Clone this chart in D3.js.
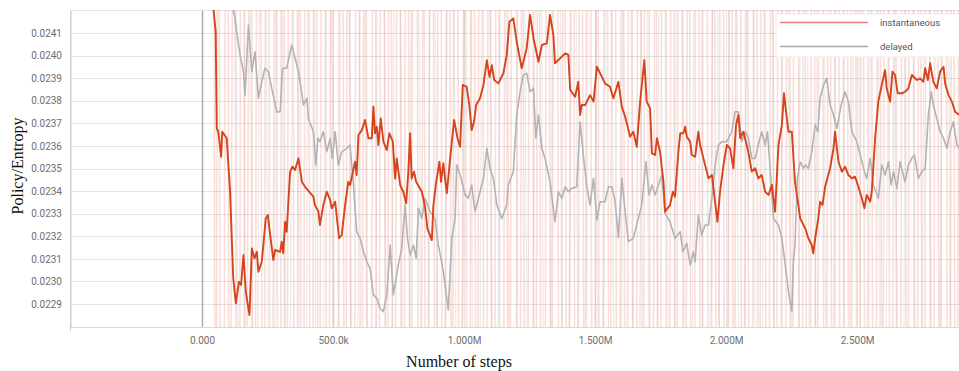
<!DOCTYPE html>
<html>
<head>
<meta charset="utf-8">
<script src="https://cdn.jsdelivr.net/npm/d3@7"></script>
<style>
  body { margin: 0; background: #fff; }
  text { font-family: Roboto, Arial, sans-serif; }
</style>
</head>
<body>
<svg id="chart" width="959" height="371"></svg>
<script>
// ---- data ----
const xTicks = [-500000, 0, 500000, 1000000, 1500000, 2000000, 2500000];
const xTickLabels = ['', '0.000', '500.0k', '1.000M', '1.500M', '2.000M', '2.500M'];
const yTicks = [0.0229, 0.0230, 0.0231, 0.0232, 0.0233, 0.0234, 0.0235, 0.0236, 0.0237, 0.0238, 0.0239, 0.0240, 0.0241];
const seriesNames = ['instantaneous', 'delayed'];

// smoothed series: [step (thousands), value]
const instantaneous = [
  [42,0.024224],[52,0.024106],[56,0.023678],[62,0.023663],[73,0.023552],[77,0.023663],[94,0.023634],[107,0.023397],[119,0.023015],[129,0.022903],
  [141,0.022999],[149,0.022984],[158,0.023117],[167,0.022954],[181,0.022851],[190,0.023146],[200,0.023102],[209,0.023131],[215,0.023043],[228,0.023087],
  [234,0.023161],[243,0.023279],[251,0.023294],[260,0.023205],[272,0.023095],[279,0.023139],[298,0.023131],[304,0.023176],[310,0.023124],[317,0.023264],
  [323,0.023220],[336,0.023486],[345,0.023508],[355,0.023493],[368,0.023545],[381,0.023441],[393,0.023419],[425,0.023375],[431,0.023338],[444,0.023309],
  [450,0.023250],[463,0.023338],[476,0.023397],[489,0.023360],[495,0.023324],[508,0.023353],[523,0.023191],[533,0.023205],[546,0.023338],[558,0.023441],
  [565,0.023427],[584,0.023530],[590,0.023471],[597,0.023648],[610,0.023670],[622,0.023715],[635,0.023634],[648,0.023634],[654,0.023774],[660,0.023656],
  [667,0.023685],[673,0.023604],[682,0.023722],[692,0.023619],[705,0.023582],[715,0.023656],[728,0.023619],[737,0.023456],[743,0.023545],[756,0.023427],
  [768,0.023397],[779,0.023346],[787,0.023479],[794,0.023656],[800,0.023456],[809,0.023486],[817,0.023441],[839,0.023397],[851,0.023331],[860,0.023235],
  [877,0.023183],[883,0.023338],[893,0.023434],[906,0.023530],[912,0.023441],[921,0.023523],[934,0.023390],[947,0.023545],[962,0.023715],[975,0.023634],
  [985,0.023596],[995,0.023870],[1010,0.023862],[1020,0.023781],[1029,0.023670],[1038,0.023707],[1046,0.023781],[1061,0.023811],[1074,0.023870],[1087,0.023980],
  [1097,0.023906],[1106,0.023958],[1115,0.023892],[1131,0.023877],[1150,0.023922],[1163,0.024003],[1173,0.024150],[1188,0.024165],[1201,0.024061],[1220,0.023944],
  [1239,0.024032],[1252,0.024180],[1265,0.024077],[1284,0.023973],[1297,0.024047],[1316,0.024054],[1328,0.024180],[1341,0.024091],[1347,0.023966],[1386,0.024010],
  [1398,0.024003],[1405,0.023848],[1424,0.023818],[1436,0.023884],[1443,0.023737],[1449,0.023781],[1462,0.023781],[1481,0.023825],[1494,0.023796],[1507,0.023951],
  [1538,0.023877],[1557,0.023862],[1570,0.023811],[1589,0.023884],[1602,0.023774],[1615,0.023729],[1634,0.023641],[1646,0.023663],[1659,0.023596],[1672,0.023796],
  [1688,0.023980],[1697,0.023796],[1710,0.023766],[1717,0.023567],[1729,0.023560],[1736,0.023634],[1748,0.023574],[1761,0.023441],[1767,0.023309],[1786,0.023338],
  [1797,0.023397],[1805,0.023375],[1818,0.023574],[1825,0.023656],[1837,0.023656],[1844,0.023685],[1850,0.023641],[1863,0.023619],[1869,0.023560],[1882,0.023552],
  [1894,0.023663],[1901,0.023604],[1920,0.023515],[1933,0.023456],[1946,0.023471],[1952,0.023412],[1967,0.023264],[1977,0.023397],[1990,0.023515],[2003,0.023604],
  [2015,0.023589],[2028,0.023501],[2038,0.023693],[2047,0.023737],[2054,0.023634],[2066,0.023663],[2085,0.023574],[2098,0.023486],[2111,0.023501],[2123,0.023456],
  [2136,0.023471],[2149,0.023397],[2162,0.023383],[2175,0.023427],[2187,0.023309],[2200,0.023604],[2213,0.023693],[2221,0.023833],[2229,0.023751],[2238,0.023663],
  [2251,0.023663],[2263,0.023441],[2283,0.023279],[2302,0.023235],[2314,0.023191],[2327,0.023161],[2333,0.023124],[2340,0.023191],[2352,0.023279],[2359,0.023353],
  [2368,0.023338],[2378,0.023419],[2397,0.023501],[2410,0.023589],[2416,0.023663],[2429,0.023530],[2442,0.023486],[2454,0.023508],[2467,0.023471],[2480,0.023456],
  [2492,0.023464],[2505,0.023419],[2518,0.023368],[2528,0.023324],[2537,0.023383],[2550,0.023353],[2556,0.023397],[2569,0.023634],[2581,0.023796],[2594,0.023870],
  [2607,0.023936],[2613,0.023855],[2626,0.023796],[2635,0.023929],[2645,0.023914],[2655,0.023833],[2671,0.023833],[2683,0.023840],[2696,0.023855],[2709,0.023914],
  [2728,0.023892],[2741,0.023899],[2753,0.023884],[2760,0.023944],[2770,0.023892],[2779,0.023966],[2791,0.023884],[2804,0.023855],[2817,0.023929],[2830,0.023951],
  [2836,0.023877],[2849,0.023825],[2862,0.023796],[2874,0.023751],[2890,0.023737]
];

const delayed = [
  [115,0.024224],[126,0.024165],[132,0.024106],[145,0.024003],[158,0.023929],[164,0.023825],[177,0.024135],[190,0.023929],[202,0.024017],[215,0.023811],
  [228,0.023884],[240,0.023944],[253,0.023929],[266,0.023855],[285,0.023751],[298,0.023751],[307,0.023944],[323,0.023944],[342,0.024047],[355,0.023988],
  [368,0.023929],[378,0.023855],[387,0.023781],[400,0.023811],[406,0.023722],[425,0.023663],[434,0.023515],[442,0.023634],[450,0.023619],[463,0.023663],
  [476,0.023574],[489,0.023634],[497,0.023545],[508,0.023663],[520,0.023515],[533,0.023574],[552,0.023589],[565,0.023604],[578,0.023427],[590,0.023220],
  [603,0.023191],[616,0.023131],[629,0.023087],[641,0.023058],[654,0.022940],[667,0.022925],[679,0.022881],[692,0.022866],[705,0.022940],[718,0.023161],
  [730,0.022940],[749,0.023072],[762,0.023146],[775,0.023338],[784,0.023191],[794,0.023117],[807,0.023161],[817,0.023102],[826,0.023324],[839,0.023279],
  [851,0.023368],[870,0.023309],[889,0.023279],[902,0.023161],[921,0.023043],[940,0.022873],[953,0.023191],[966,0.023279],[972,0.023515],[985,0.023471],
  [1004,0.023383],[1016,0.023368],[1029,0.023427],[1042,0.023309],[1061,0.023397],[1074,0.023456],[1087,0.023589],[1099,0.023501],[1112,0.023456],[1125,0.023338],
  [1144,0.023279],[1163,0.023338],[1169,0.023427],[1188,0.023486],[1201,0.023737],[1214,0.023840],[1226,0.023914],[1239,0.023922],[1252,0.023840],[1265,0.023855],
  [1274,0.023634],[1284,0.023737],[1297,0.023589],[1309,0.023545],[1328,0.023441],[1347,0.023264],[1360,0.023397],[1373,0.023368],[1386,0.023419],[1398,0.023397],
  [1411,0.023412],[1430,0.023419],[1443,0.023707],[1455,0.023560],[1468,0.023427],[1481,0.023338],[1494,0.023456],[1507,0.023272],[1519,0.023353],[1538,0.023353],
  [1551,0.023419],[1564,0.023419],[1576,0.023360],[1589,0.023194],[1602,0.023456],[1615,0.023309],[1627,0.023176],[1646,0.023191],[1665,0.023279],[1678,0.023338],
  [1694,0.023530],[1706,0.023383],[1717,0.023427],[1729,0.023383],[1742,0.023427],[1755,0.023471],[1767,0.023301],[1786,0.023264],[1805,0.023191],[1825,0.023220],
  [1835,0.023131],[1850,0.023169],[1863,0.023072],[1875,0.023131],[1882,0.023087],[1894,0.023294],[1907,0.023205],[1920,0.023250],[1933,0.023250],[1946,0.023368],
  [1958,0.023515],[1971,0.023604],[1984,0.023619],[2003,0.023619],[2022,0.023663],[2034,0.023751],[2047,0.023751],[2060,0.023619],[2073,0.023663],[2085,0.023634],
  [2098,0.023545],[2111,0.023545],[2123,0.023604],[2136,0.023663],[2149,0.023604],[2158,0.023663],[2168,0.023501],[2181,0.023279],[2200,0.023250],[2213,0.023191],
  [2229,0.023043],[2238,0.022954],[2251,0.022866],[2257,0.023087],[2263,0.023161],[2272,0.023456],[2283,0.023530],[2295,0.023501],[2302,0.023515],[2314,0.023501],
  [2327,0.023574],[2340,0.023693],[2350,0.023663],[2359,0.023811],[2372,0.023870],[2384,0.023899],[2397,0.023781],[2410,0.023737],[2423,0.023678],[2439,0.023781],
  [2454,0.023840],[2467,0.023796],[2480,0.023663],[2499,0.023619],[2512,0.023560],[2528,0.023486],[2537,0.023456],[2550,0.023545],[2562,0.023427],[2581,0.023368],
  [2594,0.023515],[2607,0.023471],[2620,0.023530],[2630,0.023427],[2639,0.023486],[2652,0.023412],[2664,0.023530],[2683,0.023441],[2696,0.023515],[2709,0.023545],
  [2719,0.023560],[2734,0.023456],[2747,0.023486],[2760,0.023501],[2772,0.023737],[2783,0.023840],[2791,0.023781],[2804,0.023722],[2817,0.023663],[2830,0.023634],
  [2843,0.023589],[2855,0.023663],[2868,0.023707],[2881,0.023604],[2890,0.023589]
];

// raw (unsmoothed) values, mostly far outside the visible range
const instantaneousRaw = [
  [40,0.0292],[52,0.0201],[61,0.0266],[77,0.0187],[95,0.0279],[104,0.0209],[121,0.0258],[140,0.0195],[152,0.0284],[166,0.0214],
  [188,0.0263],[197,0.0190],[214,0.0275],[236,0.0206],[249,0.0296],[262,0.0199],[281,0.0261],[296,0.0183],[305,0.0270],[322,0.0212],
  [340,0.0288],[356,0.0194],[371,0.0257],[383,0.0204],[402,0.0281],[418,0.0186],[429,0.0269],[447,0.0210],[466,0.0293],[478,0.0197],
  [495,0.0260],[511,0.0189],[530,0.0277],[546,0.0207],[558,0.0265],[577,0.0193],[594,0.0286],[606,0.0213],[623,0.0259],[641,0.0184],
  [655,0.0272],[672,0.0202],[690,0.0290],[703,0.0196],[716,0.0262],[734,0.0208],[752,0.0280],[764,0.0191],[781,0.0267],[797,0.0211],
  [812,0.0294],[830,0.0198],[846,0.0256],[858,0.0185],[874,0.0276],[893,0.0205],[907,0.0283],[921,0.0192],[938,0.0264],[955,0.0215],
  [968,0.0289],[985,0.0200],[1003,0.0258],[1018,0.0188],[1031,0.0273],[1049,0.0209],[1066,0.0291],[1079,0.0194],[1096,0.0261],[1114,0.0203],
  [1127,0.0278],[1143,0.0186],[1160,0.0268],[1174,0.0212],[1191,0.0295],[1209,0.0197],[1222,0.0257],[1238,0.0190],[1255,0.0282],[1271,0.0206],
  [1284,0.0263],[1302,0.0183],[1319,0.0274],[1333,0.0210],[1350,0.0287],[1366,0.0195],[1380,0.0260],[1397,0.0204],[1414,0.0279],[1428,0.0189],
  [1445,0.0266],[1461,0.0213],[1475,0.0292],[1492,0.0199],[1509,0.0259],[1522,0.0187],[1540,0.0271],[1557,0.0208],[1570,0.0285],[1588,0.0193],
  [1604,0.0262],[1619,0.0205],[1636,0.0280],[1651,0.0184],[1667,0.0269],[1683,0.0211],[1698,0.0293],[1714,0.0196],[1731,0.0256],[1745,0.0202],
  [1762,0.0277],[1779,0.0190],[1793,0.0265],[1810,0.0214],[1826,0.0288],[1840,0.0198],[1857,0.0261],[1874,0.0186],[1888,0.0275],[1905,0.0207],
  [1921,0.0290],[1936,0.0192],[1952,0.0258],[1969,0.0203],[1983,0.0281],[2000,0.0188],[2016,0.0267],[2031,0.0212],[2048,0.0296],[2063,0.0197],
  [2079,0.0260],[2095,0.0185],[2110,0.0273],[2126,0.0209],[2142,0.0284],[2157,0.0194],[2174,0.0263],[2189,0.0204],[2205,0.0279],[2221,0.0189],
  [2236,0.0268],[2252,0.0213],[2268,0.0291],[2284,0.0199],[2299,0.0257],[2315,0.0187],[2331,0.0272],[2346,0.0206],[2362,0.0286],[2378,0.0193],
  [2393,0.0264],[2409,0.0201],[2425,0.0278],[2441,0.0184],[2456,0.0270],[2472,0.0210],[2487,0.0294],[2503,0.0196],[2519,0.0259],[2535,0.0205],
  [2550,0.0276],[2566,0.0190],[2582,0.0266],[2597,0.0214],[2613,0.0289],[2629,0.0198],[2645,0.0262],[2660,0.0186],[2676,0.0274],[2692,0.0208],
  [2707,0.0292],[2723,0.0195],[2739,0.0258],[2754,0.0202],[2770,0.0283],[2786,0.0188],[2801,0.0267],[2817,0.0211],[2833,0.0290],[2849,0.0197],
  [2864,0.0261],[2880,0.0204],[2895,0.0279]
];

const delayedRaw = [
  [118,0.0276],[150,0.0191],[171,0.0268],[205,0.0199],[231,0.0283],[266,0.0187],[290,0.0271],[327,0.0203],[352,0.0262],[389,0.0194],
  [415,0.0280],[447,0.0189],[481,0.0266],[512,0.0201],[545,0.0285],[580,0.0196],[611,0.0264],[648,0.0186],[679,0.0274],[713,0.0205],
  [746,0.0269],[779,0.0192],[812,0.0281],[846,0.0198],[881,0.0263],[913,0.0188],[947,0.0277],[980,0.0202],[1014,0.0267],[1049,0.0193],
  [1082,0.0284],[1115,0.0200],[1150,0.0265],[1183,0.0187],[1217,0.0275],[1250,0.0204],[1284,0.0270],[1318,0.0190],[1351,0.0282],[1386,0.0197],
  [1419,0.0261],[1452,0.0189],[1487,0.0278],[1520,0.0203],[1553,0.0266],[1588,0.0192],[1621,0.0286],[1655,0.0199],[1689,0.0264],[1722,0.0186],
  [1756,0.0273],[1790,0.0205],[1823,0.0268],[1857,0.0191],[1891,0.0280],[1924,0.0197],[1958,0.0262],[1992,0.0188],[2025,0.0276],[2059,0.0202],
  [2093,0.0269],[2126,0.0193],[2160,0.0283],[2194,0.0200],[2228,0.0265],[2261,0.0187],[2295,0.0274],[2329,0.0204],[2362,0.0271],[2396,0.0190],
  [2430,0.0281],[2464,0.0196],[2497,0.0263],[2531,0.0189],[2565,0.0277],[2598,0.0203],[2632,0.0267],[2666,0.0192],[2700,0.0285],[2733,0.0198],
  [2767,0.0264],[2801,0.0186],[2834,0.0272],[2868,0.0205]
];

// ---- layout ----
const W = 959, H = 371;
const plot = { left: 70, right: 959, top: 10, bottom: 327 };
const red = '#d6441d', grey = '#b3b3b3';

const svg = d3.select('#chart');

const x = d3.scaleLinear().domain([-504000, 2889000]).range([plot.left, plot.right]);
const y = d3.scaleLinear().domain([0.022798, 0.024202]).range([plot.bottom, plot.top]);

svg.append('rect').attr('width', W).attr('height', H).attr('fill', '#fff');

// grid
const grid = svg.append('g');
grid.selectAll('line.h')
  .data(yTicks)
  .join('line')
  .attr('class', 'h')
  .attr('x1', plot.left).attr('x2', plot.right)
  .attr('y1', d => Math.round(y(d)) + 0.5).attr('y2', d => Math.round(y(d)) + 0.5)
  .attr('stroke', '#e3e3e3');
grid.selectAll('line.v')
  .data(xTicks)
  .join('line')
  .attr('class', 'v')
  .attr('x1', d => Math.round(x(d)) + 0.5).attr('x2', d => Math.round(x(d)) + 0.5)
  .attr('y1', plot.top).attr('y2', plot.bottom)
  .attr('stroke', d => d === 0 ? '#a8a8a8' : '#e6e6e6')
  .attr('stroke-width', d => d === 0 ? 1.4 : 1);

// frame
svg.append('line').attr('x1', plot.left + 0.5).attr('x2', plot.left + 0.5)
  .attr('y1', plot.top).attr('y2', plot.bottom + 4).attr('stroke', '#d0d0d0');
svg.append('line').attr('x1', plot.left).attr('x2', plot.right)
  .attr('y1', plot.top + 0.5).attr('y2', plot.top + 0.5).attr('stroke', '#e3e3e3');
svg.append('line').attr('x1', plot.left - 1).attr('x2', plot.right)
  .attr('y1', plot.bottom + 0.5).attr('y2', plot.bottom + 0.5).attr('stroke', '#d8d8d8');

// clip
svg.append('clipPath').attr('id', 'clip')
  .append('rect')
  .attr('x', plot.left).attr('y', plot.top)
  .attr('width', plot.right - plot.left).attr('height', plot.bottom - plot.top);

const lines = svg.append('g').attr('clip-path', 'url(#clip)');
const line = d3.line().x(d => x(d[0] * 1000)).y(d => y(d[1]));

// raw traces (faint)
lines.append('path').datum(delayedRaw)
  .attr('d', line).attr('fill', 'none')
  .attr('stroke', '#bdbdbd').attr('stroke-opacity', 0.25).attr('stroke-width', 1.5);
lines.append('path').datum(instantaneousRaw)
  .attr('d', line).attr('fill', 'none')
  .attr('stroke', '#ec6a48').attr('stroke-opacity', 0.22).attr('stroke-width', 1.6);

// smoothed traces
lines.append('path').datum(delayed)
  .attr('d', line).attr('fill', 'none')
  .attr('stroke', grey).attr('stroke-width', 1.6).attr('stroke-linejoin', 'round');
lines.append('path').datum(instantaneous)
  .attr('d', line).attr('fill', 'none')
  .attr('stroke', red).attr('stroke-width', 1.9).attr('stroke-linejoin', 'round');

// axes
const yAxis = svg.append('g')
  .attr('transform', `translate(${plot.left},0)`)
  .call(d3.axisLeft(y).tickValues(yTicks).tickFormat(d3.format('.4f')).tickSize(0).tickPadding(8));
const xAxis = svg.append('g')
  .attr('transform', `translate(0,${plot.bottom})`)
  .call(d3.axisBottom(x).tickValues(xTicks).tickFormat((d, i) => xTickLabels[i]).tickSize(0).tickPadding(10));
[yAxis, xAxis].forEach(a => {
  a.select('.domain').remove();
  a.selectAll('text').attr('fill', '#6e6e6e').style('font-size', '10px').style('font-family', 'Roboto, Arial, sans-serif');
});

// legend
const legend = svg.append('g').attr('transform', 'translate(776,14)');
legend.append('rect').attr('width', 190).attr('height', 43)
  .attr('fill', '#fff').attr('stroke', '#ececec');
legend.selectAll('g.item')
  .data(seriesNames)
  .join('g')
  .attr('class', 'item')
  .attr('transform', (d, i) => `translate(0,${8 + i * 24})`)
  .each(function (d, i) {
    const g = d3.select(this);
    g.append('line').attr('x1', 4).attr('x2', 92).attr('y1', 0.5).attr('y2', 0.5)
      .attr('stroke', i === 0 ? '#e0836a' : '#a9a9a9').attr('stroke-width', 1.4);
    g.append('text').attr('x', 104).attr('y', 4).text(d)
      .attr('fill', '#555').style('font-size', '9.5px');
  });

// axis titles
svg.append('text')
  .attr('transform', 'translate(23,166) rotate(-90)')
  .attr('text-anchor', 'middle')
  .style('font-family', '"Liberation Serif", "Times New Roman", serif')
  .style('font-size', '16px')
  .attr('fill', '#111')
  .text('Policy/Entropy');
svg.append('text')
  .attr('x', 459).attr('y', 367)
  .attr('text-anchor', 'middle')
  .style('font-family', '"Liberation Serif", "Times New Roman", serif')
  .style('font-size', '16px')
  .attr('fill', '#111')
  .text('Number of steps');
</script>
</body>
</html>
